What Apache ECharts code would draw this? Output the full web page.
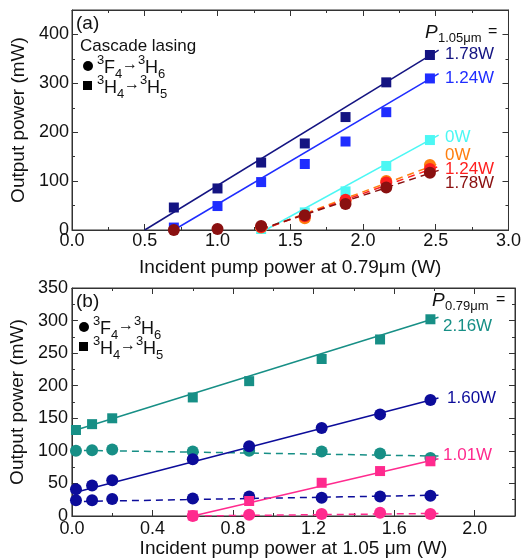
<!DOCTYPE html>
<html><head><meta charset="utf-8">
<script src="https://cdn.jsdelivr.net/npm/echarts@6/dist/echarts.min.js"></script>
<style>html,body{margin:0;padding:0;background:#fff}#c{width:524px;height:560px}</style>
</head><body><div id="c"></div>
<script>
// ---------- Panel (a) data ----------
const xA = [0.7, 1.0, 1.3, 1.6, 1.88, 2.16, 2.46];
const sqA178 = [46, 85, 138, 177, 231, 302, 358];
const sqA124 = [5, 49, 98, 135, 181, 241, 310];
const xA0 = [1.3, 1.6, 1.88, 2.16, 2.46];
const sqA0 = [2, 36, 79, 131, 184];
const ciA0 = [5, 24, 60, 100, 133];
const ciA124 = [6, 28, 62, 97, 125];
const ciA178 = [0, 2, 8, 30, 53, 87, 117];
const fitA178 = [[0.5, 0], [2.52, 368]];
const fitA124 = [[0.7, 0], [2.52, 320]];
const fitA0 = [[1.33, 0], [2.52, 194]];
const fitA0d = [[1.3, 0], [2.52, 136]];
const fitA124d = [[1.3, 0], [2.52, 130]];
const fitA178d = [[1.3, 2], [2.52, 122]];
const ticksAx = [0, 0.5, 1.0, 1.5, 2.0, 2.5, 3.0];
const ticksAy = [0, 100, 200, 300, 400];
// ---------- Panel (b) data ----------
const xB = [0.02, 0.1, 0.2, 0.6, 0.88, 1.24, 1.53, 1.78];
const sqB216 = [132, 141, 150, 182, 207, 241, 271, 302];
const ciB216 = [100, 101, 102, 99, 100, 99, 96, 89];
const ciB160 = [41, 47, 55, 87, 107, 135, 156, 178];
const ciB160d = [24, 24, 26, 27, 30, 28, 30, 31];
const xB2 = [0.6, 0.88, 1.24, 1.53, 1.78];
const sqB101 = [1, 23, 51, 69, 84];
const ciB101 = [0, 2, 3, 5, 3];
const fitB216 = [[0, 130], [1.82, 305]];
const fitB216d = [[0, 101], [1.82, 92]];
const fitB160 = [[0, 35], [1.82, 181]];
const fitB160d = [[0, 22], [1.82, 32]];
const fitB101 = [[0.6, 0], [1.82, 88]];
const fitB101d = [[0.6, 0], [1.82, 4]];
const ticksBx = [0, 0.4, 0.8, 1.2, 1.6, 2.0];
const ticksBy = [0, 50, 100, 150, 200, 250, 300, 350];

const C = {
  navy: '#141482', blue: '#1f2dff', cyan: '#4cf7f4', orange: '#ff7f10', red: '#ff1f1f', maroon: '#8a1010',
  teal: '#178f86', navyB: '#0c0c9a', pink: '#ff2a8e'
};
const FONT = 'Liberation Sans, Arial, sans-serif';
const TXT = '#111';

const xAxes = [], yAxes = [];
function addAxes(grid, x, y) {
  const xi = xAxes.length, yi = yAxes.length;
  const mk = (pos, d, labeled, major) => ({
    type: 'value', gridIndex: grid, position: pos, min: d.min, max: d.max,
    interval: major ? d.interval : d.minor,
    splitLine: {show: false},
    axisLine: {show: major, onZero: false, lineStyle: {color: '#333', width: 1}},
    axisTick: {show: true, inside: true, length: major ? 6 : 3, lineStyle: {color: '#333'}},
    axisLabel: {show: labeled, color: TXT, fontSize: 18, fontFamily: FONT, margin: d.margin || 4,
      formatter: v => { const r = Math.round(v * 1000) / 1000; return d.labels.some(t => Math.abs(t - r) < 1e-6) ? r.toFixed(d.dec) : ''; }}
  });
  xAxes.push(mk('bottom', x, true, true));
  xAxes.push(mk('bottom', x, false, false));
  xAxes.push(mk('top', x, false, true));
  xAxes.push(mk('top', x, false, false));
  yAxes.push(mk('left', y, true, true));
  yAxes.push(mk('left', y, false, false));
  yAxes.push(mk('right', y, false, true));
  yAxes.push(mk('right', y, false, false));
  return [xi, yi];
}
const [axA, ayA] = addAxes(0,
  {min: 0, max: 3, interval: 0.5, minor: 0.25, labels: ticksAx, dec: 1, margin: 2},
  {min: 0, max: 450, interval: 100, minor: 50, labels: ticksAy, dec: 0, margin: 3});
const [axB, ayB] = addAxes(1,
  {min: 0, max: 2.2, interval: 0.4, minor: 0.2, labels: ticksBx, dec: 1, margin: 4},
  {min: 0, max: 350, interval: 50, minor: 25, labels: ticksBy, dec: 0, margin: 4});
const nameStyle = {fontSize: 19, color: TXT, fontFamily: FONT};
Object.assign(xAxes[axA], {name: 'Incident pump power at 0.79\u03bcm (W)', nameLocation: 'middle', nameGap: 28, nameTextStyle: nameStyle});
Object.assign(xAxes[axB], {name: 'Incident pump power at 1.05 \u03bcm (W)', nameLocation: 'middle', nameGap: 23, nameTextStyle: nameStyle});
Object.assign(yAxes[ayA], {name: 'Output power (mW)', nameLocation: 'middle', nameGap: 35, nameTextStyle: nameStyle});
Object.assign(yAxes[ayB], {name: 'Output power (mW)', nameLocation: 'middle', nameGap: 32, nameTextStyle: nameStyle});

const series = [];
function pts(xs, ys) { return xs.map((x, i) => [x, ys[i]]); }
function line(ax, ay, data, color, dashed) {
  series.push({type: 'line', xAxisIndex: ax, yAxisIndex: ay, data, showSymbol: false, symbol: 'none', silent: true, z: 2,
    lineStyle: {color, width: 1.5, type: dashed ? [7, 5] : 'solid'}});
}
function scat(ax, ay, data, color, shape) {
  series.push({type: 'scatter', xAxisIndex: ax, yAxisIndex: ay, data, symbol: shape === 's' ? 'rect' : 'circle',
    symbolSize: shape === 's' ? 10 : 12, itemStyle: {color, opacity: 1}, z: 3});
}
// panel a
line(axA, ayA, fitA178, C.navy); line(axA, ayA, fitA124, C.blue); line(axA, ayA, fitA0, C.cyan);
line(axA, ayA, fitA0d, C.orange, true); line(axA, ayA, fitA124d, C.red, true); line(axA, ayA, fitA178d, C.maroon, true);
scat(axA, ayA, pts(xA, sqA178), C.navy, 's');
scat(axA, ayA, pts(xA, sqA124), C.blue, 's');
scat(axA, ayA, pts(xA0, sqA0), C.cyan, 's');
scat(axA, ayA, pts(xA0, ciA0), C.orange, 'c');
scat(axA, ayA, pts(xA0, ciA124), C.red, 'c');
scat(axA, ayA, pts(xA, ciA178), C.maroon, 'c');
// panel b
line(axB, ayB, fitB216, C.teal); line(axB, ayB, fitB216d, C.teal, true);
line(axB, ayB, fitB160, C.navyB); line(axB, ayB, fitB160d, C.navyB, true);
line(axB, ayB, fitB101, C.pink); line(axB, ayB, fitB101d, C.pink, true);
scat(axB, ayB, pts(xB, sqB216), C.teal, 's');
scat(axB, ayB, pts(xB, ciB216), C.teal, 'c');
scat(axB, ayB, pts(xB, ciB160), C.navyB, 'c');
scat(axB, ayB, pts(xB, ciB160d), C.navyB, 'c');
scat(axB, ayB, pts(xB2, sqB101), C.pink, 's');
scat(axB, ayB, pts(xB2, ciB101), C.pink, 'c');

function txt(x, y, text, size, color, italic) {
  return {type: 'text', x, y, z: 10, style: {text, fill: color, font: (italic ? 'italic ' : '') + size + 'px ' + FONT,
    align: 'left', verticalAlign: 'middle'}};
}
// legend entry: symbol + term symbol built from pieces (superscripts/subscripts)
function legendRow(x, y, shape, L1, s1, L2, s2) {
  const g = [];
  if (shape === 'c') g.push({type: 'circle', shape: {cx: x + 5, cy: y, r: 5}, style: {fill: '#000'}, z: 10});
  else g.push({type: 'rect', shape: {x: x, y: y - 5, width: 9, height: 9}, style: {fill: '#000'}, z: 10});
  let cx = x + 14;
  g.push(txt(cx, y - 6, '3', 13, TXT)); cx += 7;
  g.push(txt(cx, y + 2, L1, 18, TXT)); cx += L1 === 'F' ? 11 : 13;
  g.push(txt(cx, y + 8, s1, 13, TXT)); cx += 7;
  g.push(txt(cx, y - 1, '\u2192', 16, TXT)); cx += 16;
  g.push(txt(cx, y - 6, '3', 13, TXT)); cx += 7;
  g.push(txt(cx, y + 2, L2, 18, TXT)); cx += 13;
  g.push(txt(cx, y + 8, s2, 13, TXT));
  return g;
}
const graphics = [].concat(
  [txt(76, 24, '(a)', 19, TXT), txt(80, 46, 'Cascade lasing', 17, TXT)],
  legendRow(83, 66, 'c', 'F', '4', 'H', '6'),
  legendRow(83, 86, 's', 'H', '4', 'H', '5'),
  [
    txt(425, 33, 'P', 19, TXT, true),
    txt(438, 38, '1.05\u03bcm', 13, TXT),
    txt(488, 32, '=', 16, TXT),
    txt(445, 54, '1.78W', 17, C.navy),
    txt(445, 78, '1.24W', 17, C.blue),
    txt(445, 137, '0W', 17, C.cyan),
    txt(445, 155, '0W', 17, C.orange),
    txt(445, 169, '1.24W', 17, C.red),
    txt(445, 183, '1.78W', 17, C.maroon),
    txt(76, 302, '(b)', 19, TXT)
  ],
  legendRow(79, 327, 'c', 'F', '4', 'H', '6'),
  legendRow(79, 347, 's', 'H', '4', 'H', '5'),
  [
    txt(432, 301, 'P', 19, TXT, true),
    txt(445, 306, '0.79\u03bcm', 13, TXT),
    txt(496, 300, '=', 16, TXT),
    txt(443, 326, '2.16W', 17, C.teal),
    txt(447, 398, '1.60W', 17, C.navyB),
    txt(443, 455, '1.01W', 17, C.pink)
  ]
);

const chart = echarts.init(document.getElementById('c'), null, {renderer: 'canvas'});
chart.setOption({
  animation: false,
  backgroundColor: '#fff',
  grid: [
    {left: 72, top: 10, right: 14, height: 220, show: true, borderColor: '#333', borderWidth: 1, backgroundColor: 'transparent'},
    {left: 69, top: 288, right: 9, height: 228, show: true, borderColor: '#333', borderWidth: 1, backgroundColor: 'transparent'}
  ],
  xAxis: xAxes, yAxis: yAxes, series, graphic: graphics
});
</script></body></html>
